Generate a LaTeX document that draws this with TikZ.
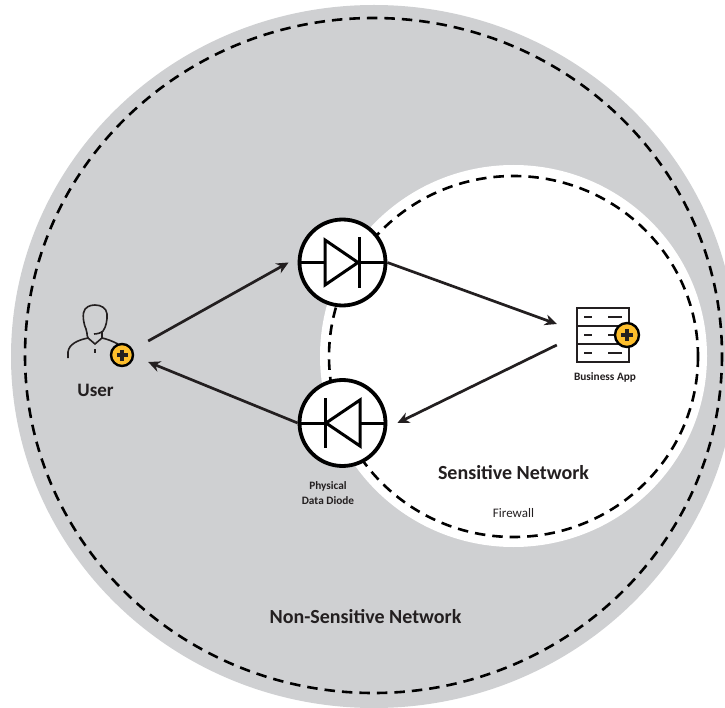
\documentclass[tikz,border=0pt]{standalone}
\usepackage{fontspec}
\setmainfont{Carlito}
\usetikzlibrary{arrows.meta,calc}
\definecolor{zonegrey}{HTML}{CFD0D2}
\definecolor{inkdark}{HTML}{231F20}
\definecolor{badgeyellow}{HTML}{FDBE2C}
\tikzset{
  x=1pt,y=-1pt,
  zonefill/.style={fill=#1,draw=none},
  zonedash/.style={draw=black,line width=2.6pt,dash pattern=on 10.5pt off 7pt},
  diodebox/.style={circle,draw=black,fill=white,line width=3.8pt,minimum size=86pt,inner sep=0pt},
  diodeline/.style={draw=black,line width=3pt},
  iconbox/.style={draw=none,fill=none,inner sep=0pt},
  flow/.style={draw=inkdark,line width=2.7pt,-{Stealth[length=12pt,width=11pt]}},
  iconline/.style={draw=inkdark,line width=1.6pt},
  badge/.style={circle,draw=black,fill=badgeyellow,line width=2.4pt,minimum size=22pt,inner sep=0pt},
  plusmark/.style={draw=inkdark,line width=3.2pt},
  boldlabel/.style={font=\fontsize{#1}{#1}\selectfont\bfseries,text=inkdark,align=center,inner sep=0pt},
  pluslabel/.style={font=\fontsize{#1}{#1}\selectfont,text=inkdark,align=center,inner sep=0pt},
}
\begin{document}
\begin{tikzpicture}
\useasboundingbox (0,0) rectangle (725,708);
\clip (0,0) rectangle (725,708);
\fill[white] (0,0) rectangle (725,708);
% zones
\path[zonefill=zonegrey] (374,356.5) ellipse [x radius=363,y radius=351.5];
\path[zonedash] (373.5,355.5) ellipse [x radius=348.5,y radius=337.5];
\path[zonefill=white] (513.5,356) ellipse [x radius=193.5,y radius=191];
\path[zonedash] (513.5,356.5) ellipse [x radius=184.5,y radius=180.5];
% diodes
\node[diodebox] (dtop) at (342.5,262.5) {};
\node[diodebox] (dbot) at (342.5,423) {};
\draw[diodeline] (dtop.west) -- (325,262.5);
\draw[diodeline,line join=miter] (325,240) -- (325,285) -- (358,262.5) -- cycle;
\draw[diodeline] (359,237) -- (359,288);
\draw[diodeline] (359,262.5) -- (dtop.east);
\draw[diodeline] (dbot.west) -- (325,423);
\draw[diodeline] (325,398) -- (325,448);
\draw[diodeline,line join=miter] (360,400) -- (360,446) -- (326,423) -- cycle;
\draw[diodeline] (360,423) -- (dbot.east);
% user icon
\node[iconbox,minimum width=88pt,minimum height=70pt] (user) at (104,345) {};
\draw[iconline] (88,338) .. controls (86,334) and (88,332) .. (86,329)
  .. controls (83,322) and (83,316) .. (83.5,313)
  .. controls (84.5,307) and (90,305) .. (95,305)
  .. controls (101,305) and (106.5,308) .. (107,314)
  .. controls (107.5,320) and (106,327) .. (103,331)
  .. controls (101,333) and (97,334) .. (94,334);
\draw[iconline] (102,331) -- (102,338);
\draw[iconline] (68,358) -- (68,352) .. controls (69,344) and (78,340) .. (88,338)
  -- (95,344) -- (102,338) .. controls (107,339) and (112,341) .. (118,344);
\draw[iconline] (95,349) -- (95,353);
\node[badge] (ubadge) at (122,355) {};
\draw[plusmark] (116.5,355) -- (127.5,355);
\draw[plusmark] (122,349.5) -- (122,360.5);
% app icon
\node[iconbox,minimum width=52pt,minimum height=54pt] (app) at (603,335) {};
\draw[iconline,line width=1.9pt] (577,308) rectangle (629,362);
\draw[iconline] (577,326) -- (629,326);
\draw[iconline] (577,344) -- (629,344);
\foreach \yy in {317,335,353}{
  \draw[iconline] (584,\yy) -- (592,\yy);
  \draw[iconline] (608,\yy) -- (622,\yy);
}
\node[badge,minimum size=24pt] (abadge) at (627,335) {};
\draw[plusmark] (621,335) -- (633,335);
\draw[plusmark] (627,329) -- (627,341);
% connectors
\draw[flow] ([yshift=4pt]user.east) -- ([xshift=-9pt]dtop.west);
\draw[flow] (dbot.west) -- ([yshift=-17pt]user.east);
\draw[flow] (dtop.east) -- ([xshift=-20pt,yshift=11pt]app.west);
\draw[flow] ([xshift=-20pt,yshift=-10pt]app.west) -- ([xshift=10pt]dbot.east);
% labels
\node[boldlabel=19] (luser) at (95.5,390) {User};
\node[boldlabel=11.3] (lapp) at (605,377.5) {Business App};
\node[boldlabel=11.3] (ldiode) at (328,493) {Physical\\[3pt]Data Diode};
\node[boldlabel=20] (lsens) at (513.5,473) {Sensitive Network};
\node[pluslabel=13] (lfw) at (513.5,513) {Firewall};
\node[boldlabel=20] (lnon) at (365.5,617) {Non-Sensitive Network};
\end{tikzpicture}
\end{document}
